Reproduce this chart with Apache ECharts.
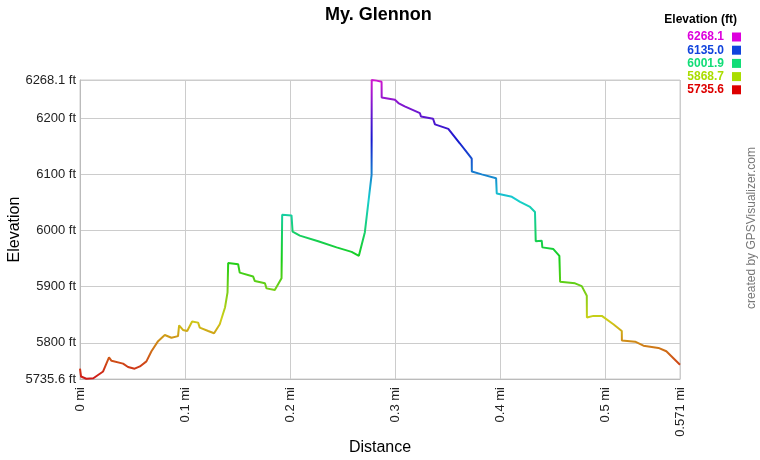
<!DOCTYPE html>
<html><head><meta charset="utf-8">
<script src="https://cdn.jsdelivr.net/npm/echarts@6/dist/echarts.min.js"></script>
<style>html,body{margin:0;padding:0;background:#fff}#c{width:760px;height:460px}</style>
</head><body><div id="c"></div>
<script>
const distances = [0,0.001,0.006,0.0127,0.022,0.0276,0.030,0.041,0.0457,0.052,0.057,0.0632,0.068,0.0743,0.0807,0.087,0.0933,0.0943,0.098,0.102,0.1067,0.1124,0.114,0.122,0.1276,0.133,0.138,0.1404,0.141,0.1505,0.152,0.1648,0.1664,0.176,0.1775,0.1854,0.1918,0.1924,0.2013,0.2023,0.2092,0.2267,0.2442,0.2585,0.2654,0.2711,0.2775,0.2776,0.2823,0.287,0.2871,0.2997,0.303,0.309,0.3235,0.3245,0.336,0.3378,0.3505,0.3616,0.3695,0.3728,0.3729,0.3823,0.396,0.3966,0.411,0.4188,0.4283,0.433,0.4337,0.4394,0.44,0.4505,0.4562,0.4569,0.4711,0.4775,0.4823,0.4824,0.4886,0.4966,0.5076,0.5156,0.5157,0.5283,0.5362,0.5505,0.558,0.571];
const elevations = [5754,5740,5736,5737,5749,5774,5768,5763,5757,5754,5758,5767,5785,5803,5814,5809,5812,5831,5823,5821,5838,5836,5827,5821,5817,5833,5863,5890,5942,5940,5925,5918,5910,5906,5897,5894,5915,6028,6027,5998,5991,5981,5970,5962,5955,5997,6099,6268.1,6267,6265,6237,6233,6227,6221,6209,6203,6199,6189,6181,6155,6136,6128,6105,6100,6093,6066,6060,6051,6042,6033,5981,5982,5970,5967,5955,5909,5906,5901,5884,5845,5848,5848,5833,5821,5804,5802,5795,5791,5785,5761];
const xTicks = [0,0.1,0.2,0.3,0.4,0.5,0.571];
const yTicks = [5735.6,5800,5900,6000,6100,6200,6268.1];
const legendValues = ['6268.1','6135.0','6001.9','5868.7','5735.6'];
const legendColors = ['#dd00dd','#1144dd','#11dd77','#aadd00','#dd0000'];
const lineColors = ['#cf1717','#cf7317','#cfcf17','#73cf17','#17cf17','#17cf73','#17cfcf','#1773cf','#1717cf','#7317cf','#cf17cf'];

const data = distances.map((d,i)=>[d,elevations[i]]);
const chart = echarts.init(document.getElementById('c'));
const legendGraphics = [{type:'text',right:23,top:14,style:{text:'Elevation (ft)',font:'bold 12px Arial',fill:'#000'}}];
legendValues.forEach((v,i)=>{
  legendGraphics.push({type:'text',x:724,y:31+i*13.2,style:{text:v,font:'bold 12px Arial',fill:legendColors[i],align:'right'}});
  legendGraphics.push({type:'rect',shape:{x:732,y:32.5+i*13.2,width:9,height:9},style:{fill:legendColors[i]}});
});
legendGraphics.push({type:'text',x:746,y:228,rotation:Math.PI/2,style:{text:'created by GPSVisualizer.com',font:'12px Arial',fill:'#777',align:'center',verticalAlign:'top'}});
chart.setOption({
  animation:false,
  title:{text:'My. Glennon',left:320,top:1,textStyle:{fontFamily:'Arial',fontSize:18,fontWeight:'bold',color:'#000'}},
  grid:{left:80,right:80,top:80,bottom:81,outerBoundsMode:'none',containLabel:false,show:true,borderColor:'#ccc',borderWidth:1},
  xAxis:{type:'value',min:0,max:0.571,name:'Distance',nameLocation:'middle',nameGap:61,nameMoveOverlap:false,
    nameTextStyle:{fontFamily:'Arial',fontSize:16,color:'#000'},
    axisLine:{show:true,lineStyle:{color:'#bbb'}},axisTick:{show:false,customValues:xTicks},
    axisLabel:{customValues:xTicks,rotate:90,fontFamily:'Arial',fontSize:13,color:'#222',margin:8,formatter:v=>v+' mi'},
    splitLine:{show:true,lineStyle:{color:'#ccc'}}},
  yAxis:{type:'value',min:5735.6,max:6268.1,name:'Elevation',nameLocation:'middle',nameGap:57,nameMoveOverlap:false,
    nameTextStyle:{fontFamily:'Arial',fontSize:16,color:'#000'},
    axisLine:{show:true,lineStyle:{color:'#bbb'}},axisTick:{show:false,customValues:yTicks},
    axisLabel:{customValues:yTicks,fontFamily:'Arial',fontSize:13,color:'#222',margin:4,formatter:v=>v+' ft'},
    splitLine:{show:true,lineStyle:{color:'#ccc'}}},
  visualMap:{show:false,type:'continuous',dimension:1,seriesIndex:0,min:5735.6,max:6268.1,inRange:{color:lineColors}},
  series:[{type:'line',data:data,showSymbol:false,lineStyle:{width:2},z:3}],
  graphic:legendGraphics
});
</script></body></html>
